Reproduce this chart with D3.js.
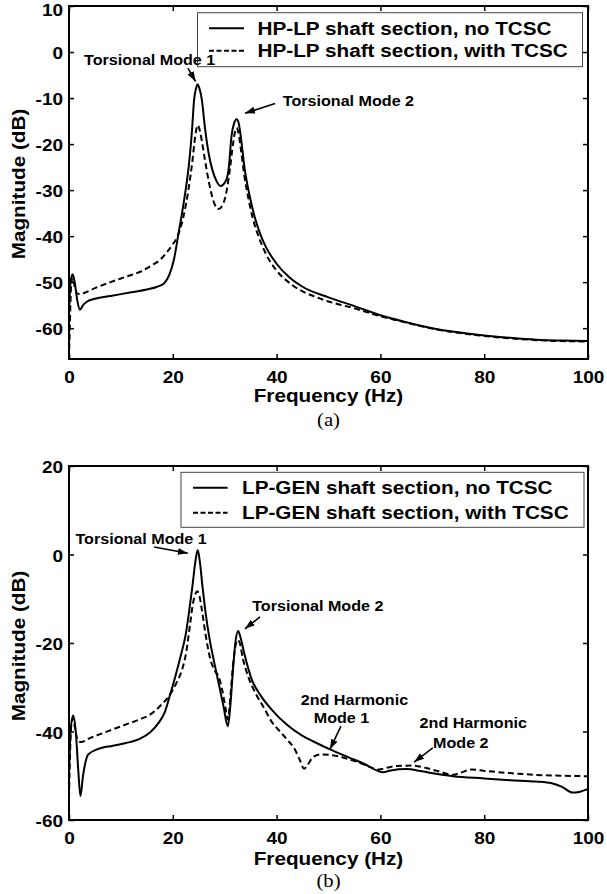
<!DOCTYPE html>
<html>
<head>
<meta charset="utf-8">
<script src="https://cdn.jsdelivr.net/npm/d3@7"></script>
<style>
  html, body { margin: 0; padding: 0; background: #fff; }
  svg { display: block; }
</style>
</head>
<body>
<div id="chart"></div>
<script>
// ---- data ----
const freqTicks = [0, 20, 40, 60, 80, 100];
const hpMagTicks = [-60, -50, -40, -30, -20, -10, 0, 10];
const lpMagTicks = [-60, -40, -20, 0, 20];

// (a) HP-LP shaft section, no TCSC
const hpFreqNo = [0, 0.3, 0.7, 1.1, 1.6, 2.1, 2.7, 3.5, 5, 8, 12, 15, 17, 18.3, 19.3, 20.2, 21.1, 22.2, 23.2, 23.7, 24.1, 24.5, 24.8, 25.1, 25.6, 26.2, 26.9, 27.6, 28.4, 29.2, 30.3, 30.8, 31.3, 31.8, 32.3, 32.7, 33.1, 33.8, 34.7, 35.7, 36.8, 38, 40, 42.5, 45, 50, 55, 60, 65, 70, 75, 80, 85, 90, 95, 100];
const hpMagNo  = [-57, -50, -48.3, -50, -54, -56, -55, -54.2, -53.6, -53, -52.2, -51.6, -51, -50.3, -48.5, -45.2, -39.4, -32, -23.5, -17, -10.4, -7.8, -7, -7.8, -10.4, -16.5, -22, -25.5, -28, -29.1, -27.8, -25, -18.4, -15.5, -14.6, -15.5, -18.4, -25, -30.7, -35.5, -39.4, -42.5, -46, -49, -51, -53.3, -55.2, -57.2, -58.7, -60, -60.9, -61.6, -62.1, -62.5, -62.7, -62.8];

// (a) HP-LP shaft section, with TCSC
const hpFreqWith = [0, 0.15, 0.4, 0.7, 1.1, 1.6, 2.2, 3, 5, 8, 11, 14, 16, 17.5, 19, 20, 21, 22, 23, 23.8, 24.3, 24.8, 25.3, 25.7, 26.2, 27, 27.9, 28.8, 29.7, 30.4, 31, 31.6, 32, 32.3, 32.6, 33.1, 33.8, 34.6, 35.5, 36.5, 38, 40, 42.5, 45, 47.5, 50, 55, 60, 65, 70, 75, 80, 85, 90, 95, 100];
const hpMagWith  = [-66.7, -60, -51, -49, -51, -52.5, -52.6, -52.3, -51.3, -50, -48.8, -47.6, -46.3, -45.2, -43.3, -41.8, -39.8, -36, -30, -23.5, -18.5, -15.9, -17.5, -20, -23.5, -28.5, -32.6, -34.1, -33, -30, -25.5, -20, -17.3, -16.5, -17.3, -21, -27, -32, -36.5, -40, -44, -47.5, -50.2, -52, -53.2, -54.2, -55.7, -57.4, -58.8, -60.1, -61, -61.7, -62.2, -62.6, -62.8, -62.9];

// (b) LP-GEN shaft section, no TCSC
const lpFreqNo = [0, 0.3, 0.8, 1.3, 1.8, 2.2, 2.7, 3.7, 5.5, 8.5, 11, 13.7, 15.6, 17.3, 18.5, 19.5, 20.5, 21.5, 22.5, 23.3, 23.8, 24.3, 24.8, 25.2, 25.7, 26.3, 27, 28, 29, 29.8, 30.6, 31.1, 31.6, 32.1, 32.6, 33.1, 33.8, 35.2, 37, 39, 42, 45, 47, 50.2, 54, 57, 59.5, 60.5, 62, 65, 68, 71, 74, 80, 85, 90, 93, 95, 97, 98.5, 100];
const lpMagNo  = [-50, -40, -36.4, -40, -49, -54.6, -50, -45.2, -44, -43.2, -42.6, -41.6, -40.2, -38, -35.5, -31.6, -27.5, -23, -18, -11.5, -7, -2, 1, -1.5, -7, -13, -18.5, -24.5, -30, -34.5, -38.8, -34, -26, -19.5, -17.3, -19, -22.5, -28.2, -32, -35, -38.5, -41, -42.2, -44, -45.9, -47.4, -48.9, -49.2, -48.8, -48.5, -49, -49.6, -50.1, -50.6, -51, -51.3, -51.7, -52.5, -53.8, -53.6, -53];

// (b) LP-GEN shaft section, with TCSC
const lpFreqWith = [0, 0.2, 0.5, 0.8, 1.2, 1.7, 2.3, 4, 6, 8.5, 11, 13.5, 15.6, 17.5, 19.5, 20.8, 21.8, 22.6, 23.3, 23.9, 24.4, 24.7, 25.1, 25.6, 26.3, 27.2, 28.2, 28.8, 29.5, 30.2, 30.6, 31.1, 31.6, 32.1, 32.5, 32.9, 33.5, 34.5, 36, 37.5, 39, 40.5, 42, 43.5, 44.5, 45.3, 46, 47, 48.5, 51, 54, 57, 59.5, 60.5, 63, 66, 69, 71.5, 74, 75.5, 77.5, 80, 85, 90, 95, 100];
const lpMagWith  = [-55, -45, -38, -37, -39.5, -42, -42.4, -41.5, -40.6, -39.5, -38.4, -37.3, -36.2, -34.3, -31.6, -28.8, -26, -22, -16, -11, -8.8, -8.3, -9.2, -12.5, -18, -23.5, -26.5, -27.5, -30.5, -35, -37.3, -32, -25, -20.5, -19.3, -20, -23.5, -27.5, -31.5, -34.5, -37.7, -39.8, -41.8, -44, -46.5, -48.4, -47.5, -45.8, -45.2, -45.4, -46.3, -47.5, -48.6, -48.4, -47.8, -47.7, -48.3, -49.1, -49.8, -49.3, -48.6, -48.9, -49.4, -49.8, -50, -50.1];

const hpLegend = ["HP-LP shaft section, no TCSC", "HP-LP shaft section, with TCSC"];
const lpLegend = ["LP-GEN shaft section, no TCSC", "LP-GEN shaft section, with TCSC"];

// annotations: text lines placed in data units, arrows from/to in data units
const hpNotes = [
    { lines: ["Torsional Mode 1"], f: 2.9, db: -2.9, anchor: "start", from: [22.9, -3.5], to: [24.4, -6.4] },
    { lines: ["Torsional Mode 2"], f: 41.2, db: -11.7, anchor: "start", from: [39.7, -11.2], to: [33.9, -13.3] }
];
const lpNotes = [
    { lines: ["Torsional Mode 1"], f: 1.25, db: 2.3, anchor: "start", from: [16.4, 1.7], to: [22.9, 0.3] },
    { lines: ["Torsional Mode 2"], f: 35.3, db: -12.8, anchor: "start", from: [36.8, -14.1], to: [33.9, -16.8] },
    { lines: ["2nd Harmonic", "Mode 1"], f: [55.0, 52.5], db: [-33.9, -38.0], anchor: "middle", from: [52.4, -38.8], to: [50.3, -44.0] },
    { lines: ["2nd Harmonic", "Mode 2"], f: [77.9, 75.5], db: [-39.1, -43.8], anchor: "middle", from: [70.1, -43.7], to: [66.5, -46.9] }
];

// ---- drawing ----
const W = 607, H = 894;
const SANS = "'Liberation Sans', Arial, Helvetica, sans-serif";
const STRETCH = 1.15;

const svg = d3.select("#chart").append("svg")
    .attr("width", W)
    .attr("height", H)
    .attr("viewBox", `0 0 ${W} ${H}`);

svg.append("rect").attr("width", W).attr("height", H).attr("fill", "#fff");

svg.append("defs").append("marker")
    .attr("id", "arrow")
    .attr("markerUnits", "userSpaceOnUse")
    .attr("markerWidth", 12)
    .attr("markerHeight", 10)
    .attr("viewBox", "0 -5 12 10")
    .attr("refX", 10)
    .attr("refY", 0)
    .attr("orient", "auto")
    .append("path")
    .attr("d", "M0,-3.5L10,0L0,3.5Z")
    .attr("fill", "#000");

// plain hyphen for negatives, like the source
const fmtTick = d => String(d);

function drawPanel(p) {
    const x = d3.scaleLinear().domain([0, 100]).range([p.left, p.right]);
    const y = d3.scaleLinear().domain(p.yDomain).range([p.bottom, p.top]);
    const g = svg.append("g");

    const clipId = "clip-" + p.id;
    g.append("clipPath").attr("id", clipId)
        .append("rect")
        .attr("x", p.left).attr("y", p.top)
        .attr("width", p.right - p.left).attr("height", p.bottom - p.top);

    // ticks pointing inward on all four sides
    const styleAxis = sel => {
        sel.select(".domain").remove();
        sel.selectAll(".tick line").attr("stroke", "#000").attr("stroke-width", 1.5);
        sel.selectAll("text")
            .attr("fill", "#000")
            .style("font-family", SANS)
            .style("font-size", "16.5px")
            .style("font-weight", "bold");
    };

    g.append("g")
        .attr("transform", `translate(0,${p.bottom})`)
        .call(d3.axisBottom(x).tickValues(freqTicks).tickFormat(fmtTick).tickSize(-5).tickSizeOuter(0).tickPadding(12))
        .call(styleAxis);
    g.append("g")
        .attr("transform", `translate(0,${p.top})`)
        .call(d3.axisTop(x).tickValues(freqTicks).tickSize(-5).tickSizeOuter(0).tickFormat(""))
        .call(styleAxis);
    g.append("g")
        .attr("transform", `translate(${p.left},0)`)
        .call(d3.axisLeft(y).tickValues(p.yTicks).tickFormat(fmtTick).tickSize(-5).tickSizeOuter(0).tickPadding(6))
        .call(styleAxis)
        .selectAll("text")
        .attr("dy", "0.4em")
        // keep the top label inside the page edge
        .filter(d => y(d) - p.top < 1 && p.top < 10)
        .attr("y", 3);
    g.append("g")
        .attr("transform", `translate(${p.right},0)`)
        .call(d3.axisRight(y).tickValues(p.yTicks).tickSize(-5).tickSizeOuter(0).tickFormat(""))
        .call(styleAxis);

    // curves
    const line = d3.line()
        .x(d => x(d[0]))
        .y(d => y(d[1]))
        .curve(d3.curveMonotoneX);

    p.series.forEach(s => {
        g.append("path")
            .datum(d3.zip(s.freq, s.mag))
            .attr("clip-path", `url(#${clipId})`)
            .attr("fill", "none")
            .attr("stroke", "#000")
            .attr("stroke-width", 2)
            .attr("stroke-linejoin", "round")
            .attr("stroke-dasharray", s.dash)
            .attr("d", line);
    });

    // box
    g.append("rect")
        .attr("x", p.left).attr("y", p.top)
        .attr("width", p.right - p.left).attr("height", p.bottom - p.top)
        .attr("fill", "none")
        .attr("stroke", "#000")
        .attr("stroke-width", 2);

    // legend
    const lg = p.legend;
    g.append("rect")
        .attr("x", lg.x).attr("y", lg.y)
        .attr("width", lg.w).attr("height", lg.h)
        .attr("fill", "#fff")
        .attr("stroke", "#444")
        .attr("stroke-width", 1);
    p.series.forEach((s, i) => {
        const ry = lg.rows[i];
        g.append("line")
            .attr("x1", lg.sx1).attr("x2", lg.sx2)
            .attr("y1", ry).attr("y2", ry)
            .attr("stroke", "#000")
            .attr("stroke-width", 2)
            .attr("stroke-dasharray", s.legendDash);
        g.append("text")
            .attr("x", lg.tx)
            .attr("y", ry + 6.5)
            .style("font-family", SANS)
            .style("font-size", "18px")
            .style("font-weight", "bold")
            .text(s.label);
    });

    // annotations
    p.notes.forEach(n => {
        n.lines.forEach((t, i) => {
            const fx = Array.isArray(n.f) ? n.f[i] : n.f;
            const fy = Array.isArray(n.db) ? n.db[i] : n.db;
            g.append("text")
                .attr("x", x(fx))
                .attr("y", y(fy))
                .attr("text-anchor", n.anchor)
                .style("font-family", SANS)
                .style("font-size", "14px")
                .style("font-weight", "bold")
                .text(t);
        });
        g.append("line")
            .attr("x1", x(n.from[0])).attr("y1", y(n.from[1]))
            .attr("x2", x(n.to[0])).attr("y2", y(n.to[1]))
            .attr("stroke", "#000")
            .attr("stroke-width", 1.6)
            .attr("marker-end", "url(#arrow)");
    });

    // axis titles
    g.append("text")
        .attr("x", (p.left + p.right) / 2)
        .attr("y", p.xTitleY)
        .attr("text-anchor", "middle")
        .style("font-family", SANS)
        .style("font-size", "18px")
        .style("font-weight", "bold")
        .text("Frequency (Hz)");

    g.append("text")
        .attr("transform", `translate(25,${p.yTitleY}) rotate(-90)`)
        .attr("text-anchor", "middle")
        .style("font-family", SANS)
        .style("font-size", "18px")
        .style("font-weight", "bold")
        .text("Magnitude (dB)");

    g.append("text")
        .attr("x", (p.left + p.right) / 2)
        .attr("y", p.captionY)
        .attr("text-anchor", "middle")
        .style("font-family", "'Liberation Serif', 'Times New Roman', serif")
        .style("font-size", "18px")
        .text(p.caption);
}

drawPanel({
    id: "a",
    left: 69, right: 588, top: 6, bottom: 359,
    yDomain: [-66.7, 10], yTicks: hpMagTicks,
    series: [
        { freq: hpFreqNo, mag: hpMagNo, dash: null, legendDash: null, label: hpLegend[0] },
        { freq: hpFreqWith, mag: hpMagWith, dash: "6,3.5", legendDash: "5,2.5", label: hpLegend[1] }
    ],
    legend: { x: 197.5, y: 12.7, w: 385, h: 54, rows: [28.3, 50.7], sx1: 209, sx2: 244, tx: 257.5 },
    notes: hpNotes,
    xTitleY: 401.5, yTitleY: 184, captionY: 426, caption: "(a)"
});

drawPanel({
    id: "b",
    left: 69, right: 588, top: 466, bottom: 820,
    yDomain: [-60, 20], yTicks: lpMagTicks,
    series: [
        { freq: lpFreqNo, mag: lpMagNo, dash: null, legendDash: null, label: lpLegend[0] },
        { freq: lpFreqWith, mag: lpMagWith, dash: "6,3.5", legendDash: "5,2.5", label: lpLegend[1] }
    ],
    legend: { x: 181, y: 472.3, w: 403, h: 55, rows: [487.7, 512.7], sx1: 193, sx2: 227.6, tx: 242 },
    notes: lpNotes,
    xTitleY: 864.5, yTitleY: 646, captionY: 887, caption: "(b)"
});

// the source figure's lettering runs wider than Arial: stretch every label
svg.selectAll("text").each(function () {
    const len = this.getComputedTextLength();
    if (len > 0) {
        d3.select(this)
            .attr("textLength", len * STRETCH)
            .attr("lengthAdjust", "spacingAndGlyphs");
    }
});
</script>
</body>
</html>
